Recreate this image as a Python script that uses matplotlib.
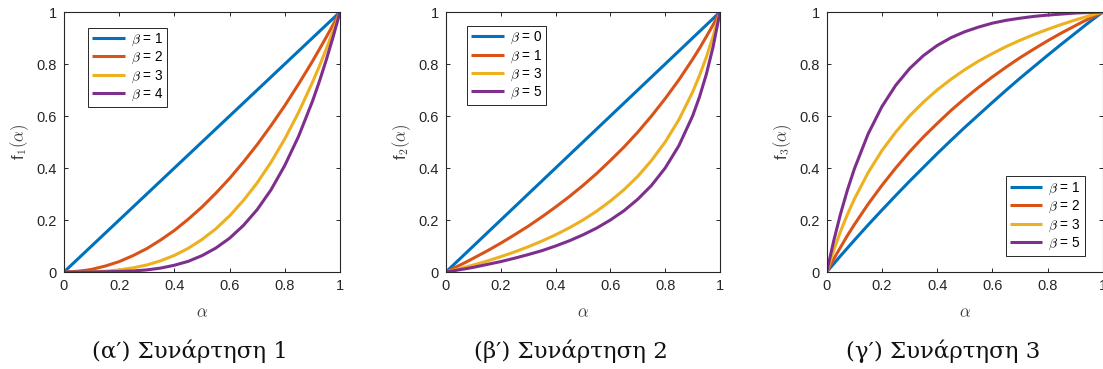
import matplotlib
matplotlib.use("Agg")
import matplotlib.pyplot as plt

plt.rcParams['font.family'] = ['Liberation Sans', 'DejaVu Sans']
plt.rcParams['mathtext.fontset'] = 'cm'

# sample points along alpha (denser near the ends where curves bend most)
alpha = [0, 0.025, 0.05, 0.075, 0.1, 0.15, 0.2, 0.25, 0.3, 0.35, 0.4, 0.45, 0.5,
         0.55, 0.6, 0.65, 0.7, 0.75, 0.8, 0.85, 0.9, 0.925, 0.95, 0.975, 1.0]

# --- function 1 ---
f1_betas = [1, 2, 3, 4]
f1_b1 = [0, 0.025, 0.05, 0.075, 0.1, 0.15, 0.2, 0.25, 0.3, 0.35, 0.4, 0.45, 0.5,
         0.55, 0.6, 0.65, 0.7, 0.75, 0.8, 0.85, 0.9, 0.925, 0.95, 0.975, 1.0]
f1_b2 = [0, 0.001, 0.003, 0.006, 0.01, 0.023, 0.04, 0.063, 0.09, 0.123, 0.16, 0.203, 0.25,
         0.303, 0.36, 0.423, 0.49, 0.563, 0.64, 0.723, 0.81, 0.856, 0.903, 0.951, 1.0]
f1_b3 = [0, 0, 0, 0, 0.001, 0.003, 0.008, 0.016, 0.027, 0.043, 0.064, 0.091, 0.125,
         0.166, 0.216, 0.275, 0.343, 0.422, 0.512, 0.614, 0.729, 0.791, 0.857, 0.927, 1.0]
f1_b4 = [0, 0, 0, 0, 0, 0.001, 0.002, 0.004, 0.008, 0.015, 0.026, 0.041, 0.063,
         0.092, 0.13, 0.179, 0.24, 0.316, 0.41, 0.522, 0.656, 0.732, 0.815, 0.904, 1.0]

# --- function 2 ---
f2_betas = [0, 1, 3, 5]
f2_b0 = [0, 0.025, 0.05, 0.075, 0.1, 0.15, 0.2, 0.25, 0.3, 0.35, 0.4, 0.45, 0.5,
         0.55, 0.6, 0.65, 0.7, 0.75, 0.8, 0.85, 0.9, 0.925, 0.95, 0.975, 1.0]
f2_b1 = [0, 0.013, 0.026, 0.039, 0.053, 0.081, 0.111, 0.143, 0.176, 0.212, 0.25, 0.29, 0.333,
         0.379, 0.429, 0.481, 0.538, 0.6, 0.667, 0.739, 0.818, 0.86, 0.905, 0.951, 1.0]
f2_b3 = [0, 0.006, 0.013, 0.02, 0.027, 0.042, 0.059, 0.077, 0.097, 0.119, 0.143, 0.17, 0.2,
         0.234, 0.273, 0.317, 0.368, 0.429, 0.5, 0.586, 0.692, 0.755, 0.826, 0.907, 1.0]
f2_b5 = [0, 0.004, 0.009, 0.013, 0.018, 0.029, 0.04, 0.053, 0.067, 0.082, 0.1, 0.12, 0.143,
         0.169, 0.2, 0.236, 0.28, 0.333, 0.4, 0.486, 0.6, 0.673, 0.76, 0.867, 1.0]

# --- function 3 ---
f3_betas = [1, 2, 3, 5]
f3_b1 = [0, 0.031, 0.062, 0.092, 0.122, 0.181, 0.238, 0.294, 0.349, 0.402, 0.455, 0.506, 0.556,
         0.604, 0.652, 0.699, 0.745, 0.789, 0.833, 0.876, 0.918, 0.939, 0.96, 0.98, 1.0]
f3_b2 = [0, 0.049, 0.095, 0.14, 0.182, 0.261, 0.333, 0.4, 0.462, 0.519, 0.571, 0.621, 0.667,
         0.71, 0.75, 0.788, 0.824, 0.857, 0.889, 0.919, 0.947, 0.961, 0.974, 0.987, 1.0]
f3_b3 = [0, 0.082, 0.156, 0.221, 0.28, 0.382, 0.467, 0.538, 0.6, 0.653, 0.7, 0.741, 0.778,
         0.811, 0.84, 0.867, 0.891, 0.913, 0.933, 0.952, 0.969, 0.977, 0.985, 0.993, 1.0]
f3_b5 = [0, 0.118, 0.223, 0.315, 0.396, 0.531, 0.636, 0.718, 0.782, 0.832, 0.871, 0.901, 0.924,
         0.942, 0.957, 0.968, 0.976, 0.983, 0.988, 0.992, 0.996, 0.997, 0.998, 0.999, 1.0]

ticks = [0, 0.2, 0.4, 0.6, 0.8, 1]
tick_labels = ['0', '0.2', '0.4', '0.6', '0.8', '1']
colors = ['#0072BD', '#D95319', '#EDB120', '#7E2F8E']
ink = '#262626'

panels = [
    dict(series=[f1_b1, f1_b2, f1_b3, f1_b4], betas=f1_betas, sub='1',
         caption="(\u03b1\u2032) \u03a3\u03c5\u03bd\u03ac\u03c1\u03c4\u03b7\u03c3\u03b7 1", cap_x=190,
         rect=[64, 12, 276, 260], leg=dict(loc='upper left', bbox_to_anchor=(0.087, 0.94))),
    dict(series=[f2_b0, f2_b1, f2_b3, f2_b5], betas=f2_betas, sub='2',
         caption="(\u03b2\u2032) \u03a3\u03c5\u03bd\u03ac\u03c1\u03c4\u03b7\u03c3\u03b7 2", cap_x=571,
         rect=[446, 12, 274, 260], leg=dict(loc='upper left', bbox_to_anchor=(0.077, 0.947))),
    dict(series=[f3_b1, f3_b2, f3_b3, f3_b5], betas=f3_betas, sub='3',
         caption="(\u03b3\u2032) \u03a3\u03c5\u03bd\u03ac\u03c1\u03c4\u03b7\u03c3\u03b7 3", cap_x=943,
         rect=[826.7, 12, 276, 260], leg=dict(loc='lower right', bbox_to_anchor=(0.935, 0.062))),
]

W, H = 1103, 369
fig = plt.figure(figsize=(W / 100, H / 100), dpi=100)

for p in panels:
    x0, ytop, w, h = p['rect']
    ax = fig.add_axes([x0 / W, (H - ytop - h) / H, w / W, h / H])
    for vals, b, c in zip(p['series'], p['betas'], colors):
        ax.plot(alpha, vals, color=c, lw=2.2, label=r'$\beta$ = %d' % b,
                solid_capstyle='butt')
    ax.set_xlim(0, 1)
    ax.set_ylim(0, 1)
    ax.set_xticks(ticks)
    ax.set_xticklabels(tick_labels)
    ax.set_yticks(ticks)
    ax.set_yticklabels(tick_labels)
    ax.tick_params(direction='in', top=True, right=True, length=3, width=0.7,
                   colors=ink, labelsize=10.5, pad=5)
    for s in ax.spines.values():
        s.set_color(ink)
        s.set_linewidth(0.8)
    ax.set_xlabel(r'$\alpha$', fontsize=12, color='#404040', labelpad=9)
    ax.set_ylabel(r'f$_{\mathsf{%s}}(\alpha)$' % p['sub'], fontsize=12, color='#404040',
                  labelpad=4)
    leg = ax.legend(fontsize=9.8, frameon=True, fancybox=False, framealpha=1,
                    edgecolor='#262626', handlelength=2.4, handletextpad=0.45,
                    labelspacing=0.14, borderpad=0.3, borderaxespad=0, **p['leg'])
    leg.get_frame().set_linewidth(0.7)
    fig.text(p['cap_x'] / W, 1 - 351 / H, p['caption'], ha='center', va='center',
             fontsize=16.5, family=['DejaVu Serif'], color='#111111')

fig.savefig('out.png', dpi=100)
